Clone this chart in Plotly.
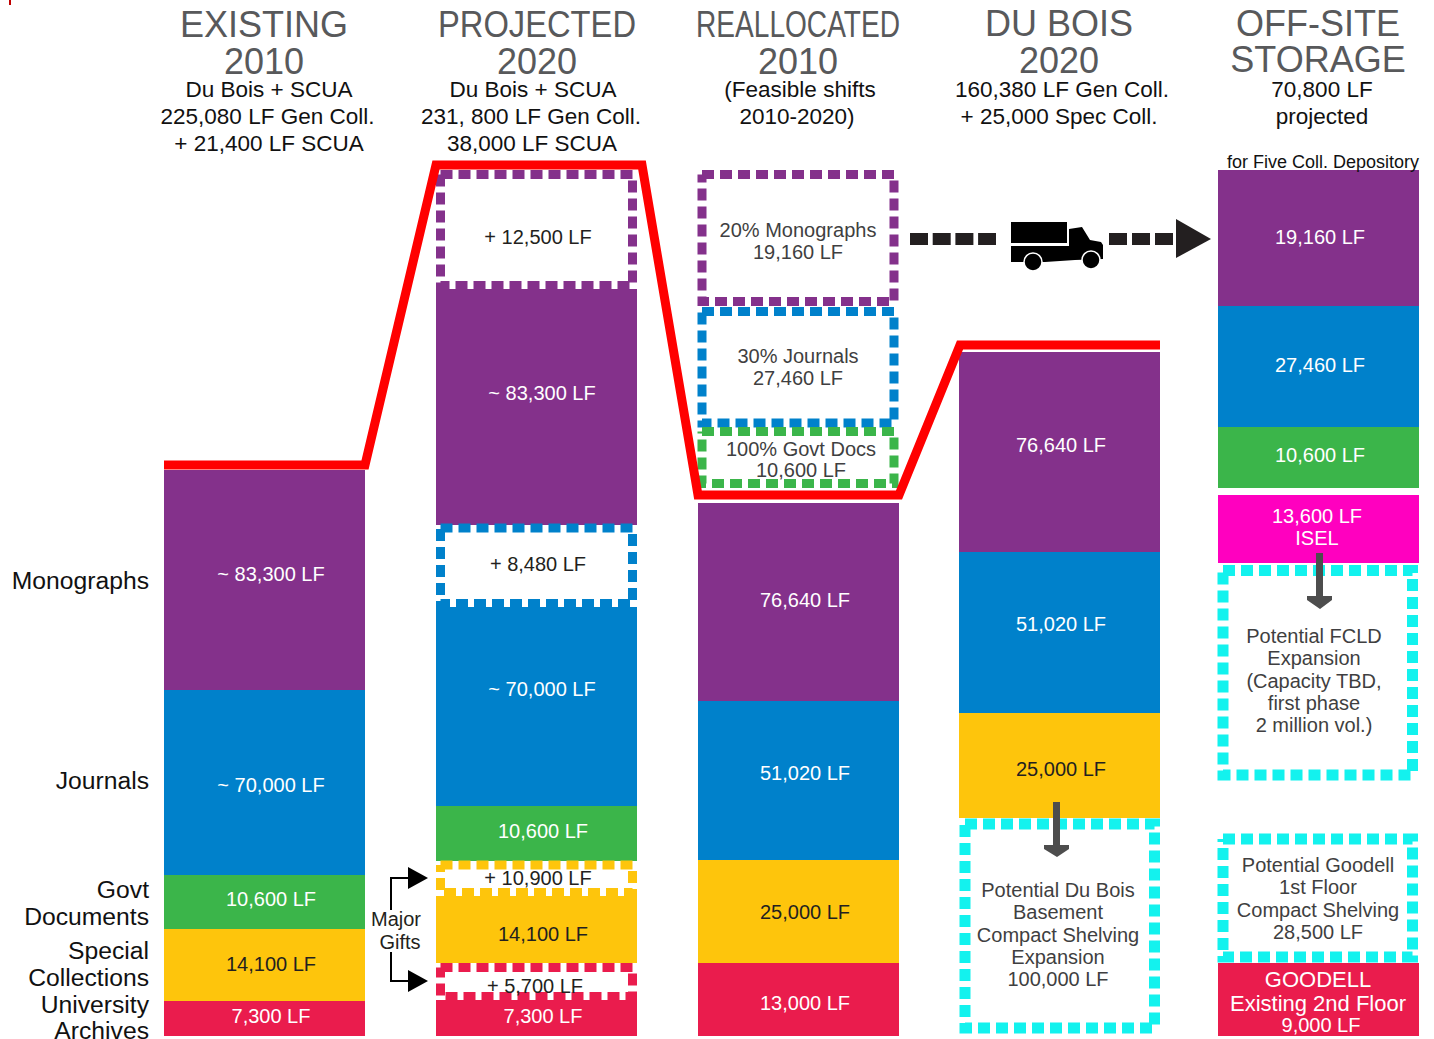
import plotly.graph_objects as go

# ---- Column centres (category positions) and shared bar width
columns = ["Existing 2010", "Projected 2020", "Reallocated 2010", "Du Bois 2020", "Off-site storage"]
col_x = [264.5, 536.5, 798.5, 1059.8, 1318.5]
BAR_W = 201

# ---- Drawn segments: column index, top on the picture's vertical scale, drawn height
monographs_col = [0, 1, 2, 3, 4]
monographs_top = [470, 289, 503, 352, 170]
monographs_h = [220, 236, 198, 200, 136]
journals_col = [0, 1, 2, 3, 4]
journals_top = [690, 607, 701, 552, 306]
journals_h = [185, 199, 159, 161, 121]
govdocs_col = [0, 1, 4]
govdocs_top = [875, 806, 427]
govdocs_h = [54, 55, 61]
special_col = [0, 1, 2, 3]
special_top = [929, 896, 860, 713]
special_h = [72, 67, 103, 105]
archives_col = [0, 1, 2, 4]
archives_top = [1001, 1000, 963, 963]
archives_h = [35, 36, 73, 73]
isel_col = [4]
isel_top = [495]
isel_h = [68]

PURPLE, BLUE, GREEN, YELLOW, RED = "#84318b", "#0081cb", "#3bb54a", "#fec50c", "#ea1c4d"
MAGENTA, CYAN = "#ff00bf", "#13f2ee"
INK, GREY, MID = "#231f20", "#58595b", "#3f3f41"

# ---- Dashed reserve boxes: colour, left, right, top, bottom, stroke
dashed_boxes = [
    (PURPLE, 440.5, 632.5, 174.5, 285.5, 9),
    (BLUE, 440.5, 632.5, 528, 603.5, 9),
    (YELLOW, 440.5, 632.5, 865, 892.5, 9),
    (RED, 440.5, 632.5, 967.5, 996.5, 9),
    (PURPLE, 702, 894, 174.5, 301.5, 9),
    (BLUE, 702, 894, 311.5, 423, 9),
    (GREEN, 702, 894, 431.5, 483.5, 9),
    (CYAN, 965, 1154.5, 824, 1028, 11),
    (CYAN, 1223, 1412.5, 570.5, 775, 11),
    (CYAN, 1223, 1412.5, 839, 957, 11),
]

# ---- Capacity line
capacity_x = [164, 365, 436, 642, 698, 899, 960, 1160]
capacity_y = [465, 465, 165, 165, 495, 495, 345, 345]

# ---- Texts: (text, x, y)
titles = [("EXISTING", 264, 28), ("2010", 264, 65), ("DU BOIS", 1059, 27), ("2020", 1059, 64),
          ("OFF-SITE", 1318, 27), ("STORAGE", 1318, 63), ("PROJECTED", 537, 28), ("2020", 537, 65),
          ("REALLOCATED", 798, 28), ("2010", 798, 65)]
subtitles = [("Du Bois + SCUA", 269, 91), ("225,080 LF Gen Coll.", 267.5, 118), ("+ 21,400 LF SCUA", 269, 145),
             ("Du Bois + SCUA", 533, 91), ("231, 800 LF Gen Coll.", 531, 118), ("38,000 LF SCUA", 532, 145),
             ("(Feasible shifts", 800, 91), ("2010-2020)", 797, 118),
             ("160,380 LF Gen Coll.", 1062, 91), ("+ 25,000 Spec Coll.", 1059, 118),
             ("70,800 LF", 1322, 91), ("projected", 1322, 118)]
depository_note = [("for Five Coll. Depository", 1323, 163)]
row_labels = [("Monographs", 583), ("Journals", 783), ("Govt", 892), ("Documents", 919), ("Special", 953),
              ("Collections", 980), ("University", 1007), ("Archives", 1033)]
white_labels = [("~ 83,300 LF", 271, 576), ("~ 70,000 LF", 271, 787), ("10,600 LF", 271, 901), ("7,300 LF", 271, 1018),
                ("~ 83,300 LF", 542, 395), ("~ 70,000 LF", 542, 691), ("10,600 LF", 543, 833), ("7,300 LF", 543, 1018),
                ("76,640 LF", 805, 602), ("51,020 LF", 805, 775), ("13,000 LF", 805, 1005),
                ("76,640 LF", 1061, 447), ("51,020 LF", 1061, 626),
                ("19,160 LF", 1320, 239), ("27,460 LF", 1320, 367), ("10,600 LF", 1320, 457),
                ("13,600 LF", 1317, 518), ("ISEL", 1317, 540),
                ("GOODELL", 1318, 981), ("Existing 2nd Floor", 1318, 1005), ("9,000 LF", 1321, 1027)]
goodell_sizes = {"GOODELL": 22, "Existing 2nd Floor": 22}
dark_labels = [("14,100 LF", 271, 966), ("14,100 LF", 543, 936), ("25,000 LF", 805, 914), ("25,000 LF", 1061, 771),
               ("+ 12,500 LF", 538, 239), ("+ 8,480 LF", 538, 566), ("+ 10,900 LF", 538, 880), ("+ 5,700 LF", 535, 988),
               ("Major", 396, 921), ("Gifts", 400, 944)]
box_labels = [("20% Monographs", 798, 232), ("19,160 LF", 798, 254), ("30% Journals", 798, 358), ("27,460 LF", 798, 380),
              ("100% Govt Docs", 801, 451), ("10,600 LF", 801, 472),
              ("Potential Du Bois", 1058, 892), ("Basement", 1058, 914), ("Compact Shelving", 1058, 937),
              ("Expansion", 1058, 959), ("100,000 LF", 1058, 981),
              ("Potential FCLD", 1314, 638), ("Expansion", 1314, 660), ("(Capacity TBD,", 1314, 683),
              ("first phase", 1314, 705), ("2 million vol.)", 1314, 727),
              ("Potential Goodell", 1318, 867), ("1st Floor", 1318, 889), ("Compact Shelving", 1318, 912), ("28,500 LF", 1318, 934)]

FONT = "Liberation Sans"
fig = go.Figure()


def bars(cols, tops, heights, color, name):
    fig.add_trace(go.Bar(x=[col_x[c] for c in cols], y=heights, base=tops, width=BAR_W, name=name,
                         marker=dict(color=color, line=dict(width=0)), showlegend=False, hoverinfo="skip"))


def texts(items, size, color, position="middle center"):
    fig.add_trace(go.Scatter(x=[i[1] for i in items], y=[i[2] for i in items], text=[i[0] for i in items],
                             mode="text", textposition=position, cliponaxis=False, showlegend=False,
                             textfont=dict(family=FONT, size=size, color=color), hoverinfo="skip"))


bars(monographs_col, monographs_top, monographs_h, PURPLE, "Monographs")
bars(journals_col, journals_top, journals_h, BLUE, "Journals")
bars(govdocs_col, govdocs_top, govdocs_h, GREEN, "Govt Documents")
bars(special_col, special_top, special_h, YELLOW, "Special Collections")
bars(archives_col, archives_top, archives_h, RED, "University Archives")
bars(isel_col, isel_top, isel_h, MAGENTA, "ISEL")

for color, x0, x1, y0, y1, w in dashed_boxes:
    fig.add_trace(go.Scatter(x=[x0, x1, x1, x0, x0], y=[y0, y0, y1, y1, y0], mode="lines", showlegend=False,
                             line=dict(color=color, width=w, dash="12px,6px"), hoverinfo="skip"))

fig.add_trace(go.Scatter(x=capacity_x, y=capacity_y, mode="lines", showlegend=False,
                         line=dict(color="#ff0000", width=9), hoverinfo="skip"))

# Freight route dashes
fig.add_trace(go.Scatter(x=[910, 996], y=[239, 239], mode="lines", showlegend=False,
                         line=dict(color=INK, width=12, dash="18px,4.7px"), hoverinfo="skip"))
fig.add_trace(go.Scatter(x=[1109, 1173], y=[239, 239], mode="lines", showlegend=False,
                         line=dict(color=INK, width=12, dash="18px,5px"), hoverinfo="skip"))

texts(titles, 36, GREY)
texts(subtitles, 22.5, "#111111")
texts(depository_note, 18, "#111111")
texts([(t, 149, y) for t, y in row_labels], 24.7, "#111111", position="middle left")
texts([t for t in white_labels if t[0] not in goodell_sizes], 20, "#ffffff")
texts([t for t in white_labels if t[0] in goodell_sizes], 22, "#ffffff")
texts(dark_labels, 20, INK)
texts(box_labels, 20, MID)


def poly(path, color):
    return dict(type="path", path=path, fillcolor=color, line=dict(width=0), layer="above")


def circle(cx, cy, r):
    return dict(type="circle", x0=cx - r, x1=cx + r, y0=cy - r, y1=cy + r, fillcolor="#000000",
                line=dict(color="#ffffff", width=1.5), layer="above")


def rule(path, color, w):
    return dict(type="path", path=path, line=dict(color=color, width=w), layer="above")


shapes = [
    # truck
    poly("M1011 222 L1067 222 L1067 243 L1011 243 Z", "#000000"),
    poly("M1011 246 L1069 246 L1069 229 L1082 227 L1090 240 L1101 242 L1103 245 L1103 259 "
         "L1075 260 L1045 262 L1011 262 Z", "#000000"),
    circle(1033, 262, 9), circle(1091, 260, 9),
    # route arrowhead
    poly("M1176 219 L1211 239 L1176 258 Z", INK),
    # major gifts arrows
    rule("M391 910 L391 878 L410 878", "#000000", 2),
    poly("M408 867 L428 878 L408 889 Z", "#000000"),
    rule("M391 952 L391 981 L410 981", "#000000", 2),
    poly("M408 970 L428 981 L408 992 Z", "#000000"),
    # down arrows
    poly("M1053 802 L1060 802 L1060 845 L1069 845 L1069 849 L1057 857 L1044 849 L1044 845 L1053 845 Z", "#4d4d4d"),
    poly("M1316 553 L1323 553 L1323 596 L1332 596 L1332 600 L1320 609 L1307 600 L1307 596 L1316 596 Z", "#4d4d4d"),
    # stray corner mark
    poly("M9 0 L11 0 L11 5 L9 5 Z", "#c00000"),
]

fig.update_layout(
    width=1434, height=1039, margin=dict(l=0, r=0, t=0, b=0), barmode="overlay", bargap=0,
    paper_bgcolor="#ffffff", plot_bgcolor="#ffffff", showlegend=False, shapes=shapes,
    xaxis=dict(range=[0, 1434], visible=False, fixedrange=True),
    yaxis=dict(range=[1039, 0], visible=False, fixedrange=True),
)

# The two long headings are set condensed in the source: squeeze those glyphs to their measured widths.
post = """
document.body.style.margin='0';document.body.style.overflow='hidden';
function squeeze(){var w={'REALLOCATED':204,'PROJECTED':198};
document.querySelectorAll('text').forEach(function(t){var n=w[t.textContent];
if(n){t.setAttribute('textLength',n);t.setAttribute('lengthAdjust','spacingAndGlyphs');}});}
squeeze();setTimeout(squeeze,50);
"""
fig.write_html("out.html", config=dict(displayModeBar=False), post_script=post)
